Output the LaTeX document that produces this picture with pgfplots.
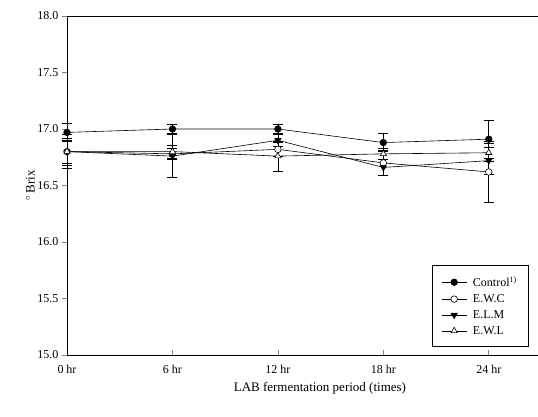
\documentclass[border=0pt]{standalone}
\usepackage{fontspec}
\setmainfont{Liberation Serif}
\usepackage{pgfplots}
\pgfplotsset{compat=1.18}
\usepackage{pgfplotstable}
\pgfplotstableread{
x y e
0 16.97 0.08
6 17.00 0.04
12 17.00 0.04
18 16.88 0.08
24 16.91 0.17
}\control
\pgfplotstableread{
x y e
0 16.80 0.10
6 16.78 0.05
12 16.82 0.06
18 16.70 0.11
24 16.62 0.27
}\ewc
\pgfplotstableread{
x y e
0 16.80 0.15
6 16.76 0.19
12 16.90 0.05
18 16.66 0.07
24 16.72 0.12
}\elm
\pgfplotstableread{
x y e
0 16.80 0.12
6 16.80 0.06
12 16.76 0.13
18 16.78 0.05
24 16.79 0.08
}\ewl
\begin{document}
\begin{tikzpicture}
\path[use as bounding box] (-67pt,-61pt) rectangle (471pt,355pt);
\begin{axis}[
  scale only axis, width=471pt, height=339pt,
  at={(0,0)}, anchor=south west,
  xmin=0, xmax=26.8, ymin=15, ymax=18,
  axis x line=bottom, axis y line=left,
  axis line style={-, line width=0.8pt},
  xtick={0,6,12,18,24},
  xticklabels={0 hr,6 hr,12 hr,18 hr,24 hr},
  ytick={15,15.5,...,18},
  yticklabel style={/pgf/number format/.cd, fixed, fixed zerofill, precision=1},
  /pgf/number format/assume math mode=true,
  tick align=outside, major tick length=5pt,
  x tick style={yshift=5pt, line width=0.6pt},
  y tick style={line width=0.6pt},
  minor tick num=0,
  tick label style={font=\fontsize{12}{14}\selectfont},
  xticklabel style={yshift=-2pt},
  xlabel={LAB fermentation period (times)},
  xlabel style={font=\fontsize{13}{15}\selectfont, at={(axis description cs:0.537,0)}, anchor=north, yshift=-24pt},
  ylabel={$^{\circ}$\,Brix},
  ylabel style={font=\fontsize{13}{15}\selectfont, at={(axis description cs:-0.078,0.5)}, anchor=center},
  legend style={at={(axis description cs:0.979,0.024)}, anchor=south east,
     font=\fontsize{12}{14}\selectfont, draw=black, line width=0.6pt, inner xsep=9pt, inner ysep=9pt,
     row sep=2.5pt, /tikz/every odd column/.append style={column sep=4pt}},
  legend image code/.code={\draw[mark repeat=2, mark phase=2] plot coordinates {(0pt,0pt) (12.5pt,0pt) (25pt,0pt)};},
  legend cell align=left,
  error bars/error bar style={line width=0.6pt, black},
  error bars/error mark options={rotate=90, mark size=5pt, line width=0.6pt, black},
  clip=false,
]
\draw[line width=0.8pt] (rel axis cs:0,1) -- (rel axis cs:1,1);
\addplot[black, line width=0.6pt, mark=*, mark size=3.3pt, mark options={fill=black, solid}, error bars/.cd, y dir=both, y explicit]
  table[x=x, y=y, y error=e] {\control};
\addlegendentry{Control\textsuperscript{1)}}
\addplot[black, line width=0.6pt, mark=*, mark size=3.3pt, mark options={fill=white, solid}, error bars/.cd, y dir=both, y explicit]
  table[x=x, y=y, y error=e] {\ewc};
\addlegendentry{E.W.C}
\addplot[black, line width=0.6pt, mark=triangle*, mark size=3.6pt, mark options={fill=black, rotate=180, solid}, error bars/.cd, y dir=both, y explicit]
  table[x=x, y=y, y error=e] {\elm};
\addlegendentry{E.L.M}
\addplot[black, line width=0.6pt, mark=triangle*, mark size=3.6pt, mark options={fill=white, solid}, error bars/.cd, y dir=both, y explicit]
  table[x=x, y=y, y error=e] {\ewl};
\addlegendentry{E.W.L}
\end{axis}
\end{tikzpicture}
\end{document}
